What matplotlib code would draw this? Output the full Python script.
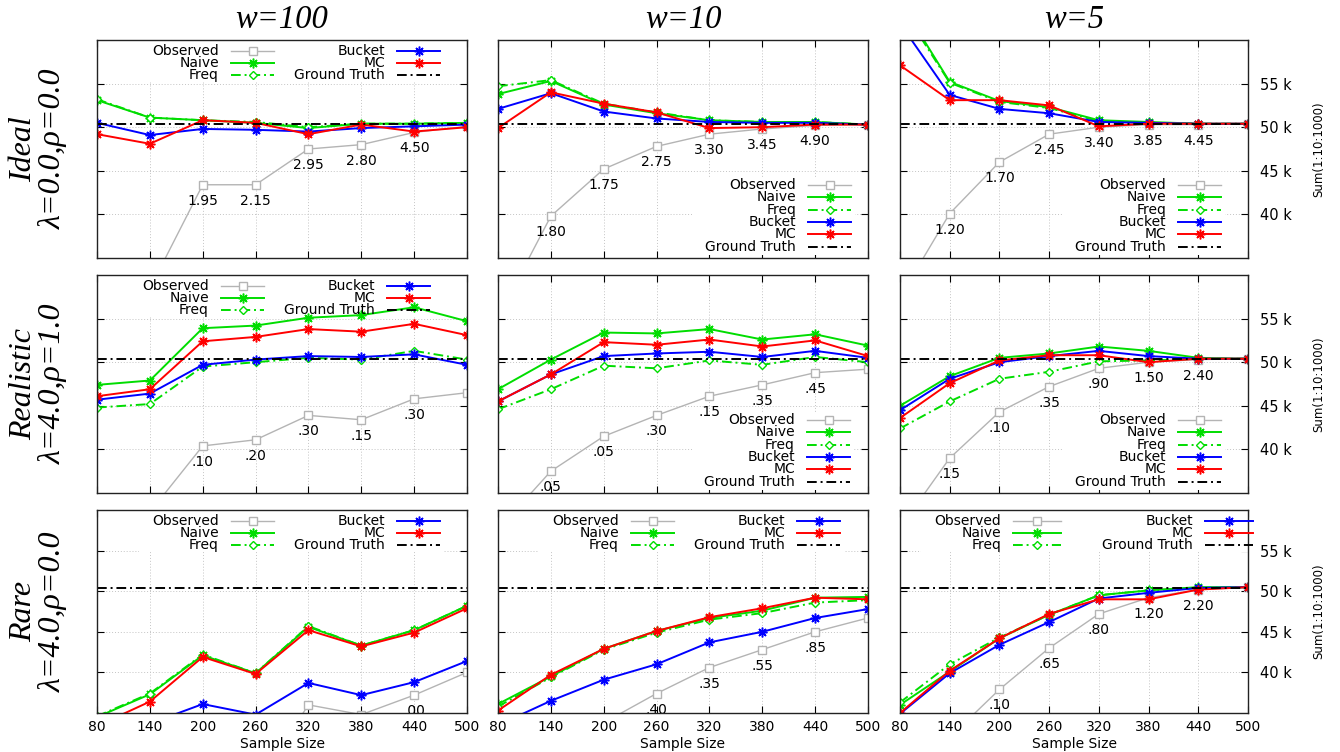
import matplotlib
matplotlib.use('Agg')
import matplotlib.pyplot as plt
from matplotlib.lines import Line2D
from matplotlib.patches import Rectangle

# Data (values in thousands)
sizes = [80, 140, 200, 260, 320, 380, 440, 500]
ground_truth = 50.4
y_ticks = [40, 45, 50, 55]

col_titles = ['w=100', 'w=10', 'w=5']
row_names = ['Ideal', 'Realistic', 'Rare']
row_params = ['λ=0.0,ρ=0.0', 'λ=4.0,ρ=1.0', 'λ=4.0,ρ=0.0']
series_names = ['Observed', 'Naive', 'Freq', 'Bucket', 'MC']

ideal_w100 = {
    'Observed': [20.0, 31.5, 43.4, 43.4, 47.5, 48.0, 49.4, 50.1],
    'Naive':    [53.1, 51.1, 50.8, 50.5, 49.9, 50.4, 50.4, 50.5],
    'Freq':     [53.2, 51.1, 50.8, 50.6, 50.0, 50.4, 50.4, 50.5],
    'Bucket':   [50.5, 49.1, 49.8, 49.7, 49.5, 49.9, 50.1, 50.3],
    'MC':       [49.2, 48.1, 50.8, 50.5, 49.2, 50.3, 49.5, 50.0],
}
ideal_w10 = {
    'Observed': [28.2, 39.8, 45.2, 47.8, 49.2, 49.8, 50.2, 50.3],
    'Naive':    [53.8, 55.3, 52.6, 51.6, 50.8, 50.6, 50.6, 50.3],
    'Freq':     [54.7, 55.4, 52.7, 51.7, 50.8, 50.6, 50.6, 50.3],
    'Bucket':   [52.1, 53.9, 51.8, 51.0, 50.6, 50.5, 50.5, 50.3],
    'MC':       [49.9, 54.0, 52.7, 51.7, 49.9, 50.0, 50.3, 50.3],
}
ideal_w5 = {
    'Observed': [30.5, 40.1, 46.0, 49.2, 50.0, 50.3, 50.3, 50.4],
    'Naive':    [64.4, 55.2, 53.0, 52.3, 50.8, 50.6, 50.4, 50.4],
    'Freq':     [64.0, 55.1, 52.9, 52.2, 50.7, 50.5, 50.4, 50.4],
    'Bucket':   [61.9, 53.7, 52.1, 51.6, 50.6, 50.5, 50.4, 50.4],
    'MC':       [57.1, 53.1, 53.1, 52.5, 50.1, 50.4, 50.4, 50.4],
}
realistic_w100 = {
    'Observed': [25.0, 32.8, 40.4, 41.1, 43.9, 43.4, 45.8, 46.5],
    'Naive':    [47.4, 47.9, 53.9, 54.2, 55.1, 55.4, 56.3, 54.7],
    'Freq':     [44.8, 45.2, 49.5, 50.0, 50.5, 50.3, 51.3, 50.3],
    'Bucket':   [45.7, 46.4, 49.7, 50.3, 50.7, 50.6, 50.9, 49.7],
    'MC':       [46.1, 46.9, 52.4, 52.9, 53.8, 53.5, 54.4, 53.1],
}
realistic_w10 = {
    'Observed': [30.8, 37.5, 41.5, 43.9, 46.1, 47.4, 48.8, 49.2],
    'Naive':    [46.9, 50.3, 53.4, 53.3, 53.8, 52.6, 53.2, 51.9],
    'Freq':     [44.6, 46.9, 49.6, 49.3, 50.2, 49.7, 50.6, 50.0],
    'Bucket':   [45.5, 48.6, 50.7, 51.0, 51.2, 50.6, 51.3, 50.5],
    'MC':       [45.5, 48.6, 52.3, 52.0, 52.6, 51.8, 52.5, 50.7],
}
realistic_w5 = {
    'Observed': [31.0, 39.0, 44.3, 47.2, 49.3, 50.0, 50.3, 50.4],
    'Naive':    [45.0, 48.4, 50.5, 51.0, 51.8, 51.3, 50.5, 50.4],
    'Freq':     [42.4, 45.5, 48.1, 48.9, 50.1, 50.2, 50.4, 50.4],
    'Bucket':   [44.5, 48.1, 50.0, 50.7, 51.3, 50.7, 50.4, 50.4],
    'MC':       [43.6, 47.6, 50.2, 50.8, 50.8, 50.0, 50.4, 50.4],
}
rare_w100 = {
    'Observed': [20.0, 22.0, 24.0, 26.0, 36.0, 34.8, 37.2, 40.0],
    'Naive':    [34.5, 37.3, 42.1, 39.9, 45.6, 43.3, 45.2, 48.2],
    'Freq':     [34.6, 37.4, 42.2, 39.9, 45.7, 43.3, 45.2, 48.2],
    'Bucket':   [32.0, 33.7, 36.1, 34.8, 38.7, 37.2, 38.8, 41.4],
    'MC':       [33.4, 36.4, 41.9, 39.8, 45.2, 43.2, 44.9, 47.9],
}
rare_w10 = {
    'Observed': [27.0, 30.0, 33.8, 37.4, 40.6, 42.8, 45.0, 46.7],
    'Naive':    [36.1, 39.5, 42.9, 45.1, 46.7, 47.6, 49.2, 49.3],
    'Freq':     [35.8, 39.4, 42.8, 44.9, 46.5, 47.3, 48.6, 48.9],
    'Bucket':   [33.5, 36.5, 39.1, 41.0, 43.7, 45.0, 46.7, 47.8],
    'MC':       [35.3, 39.7, 42.9, 45.1, 46.8, 47.9, 49.2, 49.0],
}
rare_w5 = {
    'Observed': [27.0, 32.0, 37.9, 43.0, 47.2, 49.2, 50.2, 50.5],
    'Naive':    [36.0, 40.1, 44.2, 47.1, 49.5, 50.1, 50.5, 50.5],
    'Freq':     [36.3, 41.0, 44.3, 47.1, 49.5, 50.1, 50.4, 50.5],
    'Bucket':   [34.9, 39.9, 43.4, 46.2, 49.1, 49.8, 50.4, 50.5],
    'MC':       [35.0, 40.2, 44.2, 47.2, 49.0, 49.0, 50.2, 50.5],
}

# labels printed under the Observed points
lab_ideal_w100 = ['', '', '1.95', '2.15', '2.95', '2.80', '4.50', '']
lab_ideal_w10 = ['', '1.80', '1.75', '2.75', '3.30', '3.45', '4.90', '']
lab_ideal_w5 = ['', '1.20', '1.70', '2.45', '3.40', '3.85', '4.45', '']
lab_realistic_w100 = ['', '', '.10', '.20', '.30', '.15', '.30', '']
lab_realistic_w10 = ['', '.05', '.05', '.30', '.15', '.35', '.45', '']
lab_realistic_w5 = ['', '.15', '.10', '.35', '.90', '1.50', '2.40', '']
lab_rare_w100 = ['', '', '', '', '', '', '.00', '']
lab_rare_w10 = ['', '', '', '.40', '.35', '.55', '.85', '']
lab_rare_w5 = ['', '', '.10', '.65', '.80', '1.20', '2.20', '']

panels = [[ideal_w100, ideal_w10, ideal_w5],
          [realistic_w100, realistic_w10, realistic_w5],
          [rare_w100, rare_w10, rare_w5]]
panel_labels = [[lab_ideal_w100, lab_ideal_w10, lab_ideal_w5],
                [lab_realistic_w100, lab_realistic_w10, lab_realistic_w5],
                [lab_rare_w100, lab_rare_w10, lab_rare_w5]]
#-------------------------------------------------------------------------------

# Styles
dashdot = (0, (5, 2, 1, 2))
star = (8, 2, 0)
styles = {
    'Observed': dict(color='#b4b4b4', lw=1.0, ls='-', marker='s', mfc='white',
                     ms=6, mew=1.0),
    'Naive': dict(color='#00dd00', lw=1.4, ls='-', marker=star, ms=7, mew=1.1),
    'Freq': dict(color='#00dd00', lw=1.4, ls=dashdot, marker='D', mfc='white',
                 ms=4.5, mew=1.0),
    'Bucket': dict(color='#0000ff', lw=1.4, ls='-', marker=star, ms=7, mew=1.1),
    'MC': dict(color='#ff0000', lw=1.4, ls='-', marker=star, ms=7, mew=1.1),
    'Ground Truth': dict(color='black', lw=1.4, ls=dashdot),
}

W, H = 1340, 752
col_px = [(97, 467), (498, 868), (900, 1248)]
row_px = [(40, 258), (275, 493), (510, 713)]

# legend layout: 'top' -> (text right col1, text right col2), 'bottom' -> text right
legend_cfg = [[('top', 122, 288), ('bottom', 298), ('bottom', 266)],
              [('top', 112, 278), ('bottom', 297), ('bottom', 266)],
              [('top', 122, 288), ('top', 121, 287), ('top', 101, 293)]]

serif = dict(family=['Liberation Serif', 'DejaVu Serif'], style='italic')


def key_entry(ax, w, h, name, right, ry, hlen=43):
    fy = 1 - ry / h
    ax.text(right / w, fy, name, transform=ax.transAxes, ha='right',
            va='center', fontsize=10, zorder=4)
    x0 = (right + 12) / w
    x1 = (right + 12 + hlen) / w
    st = dict(styles[name])
    ln = Line2D([x0, (x0 + x1) / 2, x1], [fy, fy, fy], transform=ax.transAxes,
                clip_on=False, zorder=4, markevery=[1], **st)
    ax.add_line(ln)


fig = plt.figure(figsize=(W / 100, H / 100), dpi=100)

for r in range(3):
    for c in range(3):
        x0, x1 = col_px[c]
        y0, y1 = row_px[r]
        w, h = x1 - x0, y1 - y0
        ax = fig.add_axes([x0 / W, 1 - y1 / H, w / W, h / H])
        data = panels[r][c]

        for name in series_names:
            ax.plot(sizes, data[name], zorder=2, **styles[name])
        ax.axhline(ground_truth, zorder=2.2, **styles['Ground Truth'])

        for x, y, lab in zip(sizes, data['Observed'], panel_labels[r][c]):
            if lab:
                ax.annotate(lab, (x, y), xytext=(0, -16),
                            textcoords='offset pixels', ha='center',
                            va='center', fontsize=10, clip_on=True)

        ax.set_xlim(80, 500)
        ax.set_ylim(35, 60)
        ax.set_xticks(sizes)
        ax.set_yticks(y_ticks)
        ax.set_yticklabels([f'{t} k' for t in y_ticks])
        ax.grid(True, color='#c4c4c4', lw=0.7, ls=(0, (1, 2)))
        ax.tick_params(direction='in', top=True, right=True, length=5,
                       width=0.8, labelsize=10, labelleft=False,
                       labelright=(c == 2), labelbottom=(r == 2))
        ax.tick_params(axis='y', pad=9, labelsize=10.5)
        ax.tick_params(axis='x', pad=5)
        for sp in ax.spines.values():
            sp.set_linewidth(1.0)
            sp.set_color('#222222')
        if r == 2:
            ax.set_xlabel('Sample Size', fontsize=10, labelpad=2)
        if c == 2:
            ax.yaxis.set_label_position('right')
            ax.set_ylabel('Sum(1:10:1000)', fontsize=8.5, labelpad=14)

        # legend
        cfg = legend_cfg[r][c]
        if cfg[0] == 'top':
            r1, r2 = cfg[1], cfg[2]
            bx0, bx1 = r1 - 80, r2 + 12 + 43 + 4
            ax.add_patch(Rectangle((bx0 / w, 1 - 42 / h), (bx1 - bx0) / w,
                                   41 / h, transform=ax.transAxes,
                                   fc='white', ec='none', zorder=1.6))
            rows = [10.7, 23.3, 35.0]
            hl = 48 if c == 2 else 43
            for name, ry in zip(['Observed', 'Naive', 'Freq'], rows):
                key_entry(ax, w, h, name, r1, ry, hl)
            for name, ry in zip(['Bucket', 'MC', 'Ground Truth'], rows):
                key_entry(ax, w, h, name, r2, ry, hl)
        else:
            rt = cfg[1]
            bx0, bx1 = rt - 103, rt + 12 + 43 + 4
            ax.add_patch(Rectangle((bx0 / w, 1 - 215 / h), (bx1 - bx0) / w,
                                   78 / h, transform=ax.transAxes,
                                   fc='white', ec='none', zorder=1.6))
            names = series_names + ['Ground Truth']
            for i, name in enumerate(names):
                key_entry(ax, w, h, name, rt, 145 + 12.35 * i)

# column titles and row labels
for c, t in enumerate(col_titles):
    xc = (col_px[c][0] + col_px[c][1]) / 2
    fig.text(xc / W, 1 - 20 / H, t, ha='center', va='center', fontsize=23.5,
             **serif)
for r in range(3):
    yc = (row_px[r][0] + row_px[r][1]) / 2
    fig.text(24 / W, 1 - yc / H, row_names[r], rotation=90, ha='center',
             va='center', fontsize=23, **serif)
    fig.text(53 / W, 1 - yc / H, row_params[r], rotation=90, ha='center',
             va='center', fontsize=23, **serif)

fig.savefig('out.png', dpi=100)
